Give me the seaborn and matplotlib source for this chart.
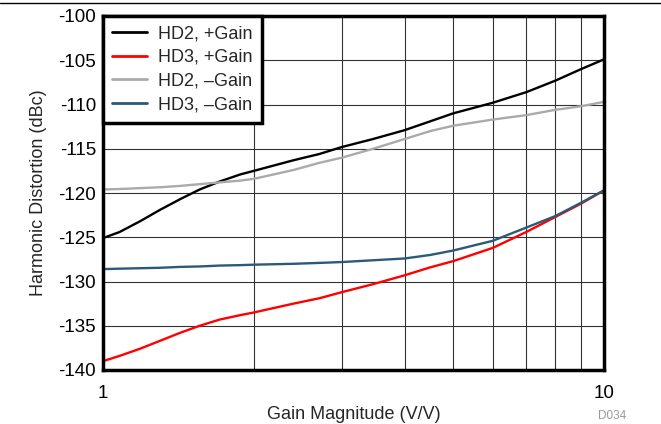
import numpy as np
import pandas as pd
import matplotlib
matplotlib.use("Agg")
import matplotlib.pyplot as plt
import seaborn as sns
from matplotlib.lines import Line2D

gain = [1, 1.08, 1.185, 1.3, 1.425, 1.56, 1.71, 1.88, 2, 2.4, 2.7, 3, 3.46, 4, 4.5, 5, 6, 7, 8, 9, 10]
hd2_pos = [-125.1, -124.4, -123.2, -121.9, -120.7, -119.6, -118.7, -117.9, -117.5, -116.3, -115.6, -114.8,
           -113.9, -112.9, -111.9, -111.0, -109.8, -108.6, -107.3, -106.0, -104.9]
hd3_pos = [-139.0, -138.4, -137.6, -136.7, -135.8, -135.0, -134.3, -133.8, -133.5, -132.5, -131.9, -131.2,
           -130.3, -129.3, -128.4, -127.7, -126.2, -124.4, -122.7, -121.2, -119.7]
hd2_neg = [-119.6, -119.55, -119.45, -119.35, -119.2, -119.0, -118.8, -118.6, -118.4, -117.4, -116.6, -116.0,
           -115.0, -113.9, -113.0, -112.4, -111.7, -111.2, -110.6, -110.2, -109.7]
hd3_neg = [-128.6, -128.55, -128.5, -128.45, -128.35, -128.3, -128.2, -128.15, -128.1, -128.0, -127.9, -127.8,
           -127.6, -127.4, -127.0, -126.5, -125.4, -123.9, -122.6, -121.1, -119.7]

series_names = ["HD2, +Gain", "HD3, +Gain", "HD2, \u2013Gain", "HD3, \u2013Gain"]
series_colors = ["#000000", "#ff0000", "#aaaaaa", "#2b5a78"]
y_ticks = [-140, -135, -130, -125, -120, -115, -110, -105, -100]
x_ticks = [1, 10]

df = pd.concat([
    pd.DataFrame({"gain": gain, "dist": vals, "series": name})
    for name, vals in zip(series_names, [hd2_pos, hd3_pos, hd2_neg, hd3_neg])
])

sns.set_theme(style="white")
plt.rcParams["font.family"] = ["Liberation Sans", "DejaVu Sans"]
plt.rcParams["axes.unicode_minus"] = False

fig = plt.figure(figsize=(6.61, 4.24), dpi=100)
ax = fig.add_axes([103/661, 1 - 370/424, (604-103)/661, (370-16)/424])

palette = dict(zip(series_names, series_colors))
sns.lineplot(data=df, x="gain", y="dist", hue="series", palette=palette,
             hue_order=series_names, linewidth=1.7, ax=ax, legend=False, zorder=3)

ax.set_xscale("log")
ax.set_xlim(1, 10)
ax.set_ylim(-140, -100)
ax.set_yticks(y_ticks)
ax.set_yticklabels([str(v) for v in y_ticks])
ax.set_xticks(x_ticks)
ax.set_xticklabels(["1", "10"])
ax.set_xticks(list(range(2, 10)), minor=True)
ax.xaxis.set_minor_formatter(matplotlib.ticker.NullFormatter())
ax.grid(True, which="both", color="#333333", linewidth=0.8, zorder=1)
ax.tick_params(axis="both", which="both", length=0, labelsize=13.5, colors="black")
ax.tick_params(axis="x", pad=11)
ax.tick_params(axis="y", pad=5)
for s in ax.spines.values():
    s.set_linewidth(2.5)
    s.set_color("black")
    s.set_zorder(5)

ax.set_xlabel("Gain Magnitude (V/V)", fontsize=13, labelpad=3)
ax.set_ylabel("Harmonic Distortion (dBc)", fontsize=13, labelpad=8)

handles = [Line2D([0], [0], color=c, lw=2) for c in series_colors]
leg = ax.legend(handles, series_names, loc="upper left", fontsize=13,
                frameon=True, fancybox=False, borderaxespad=0, handlelength=1.95,
                handletextpad=0.6, labelspacing=0.38, borderpad=0.5)
leg.get_frame().set_edgecolor("black")
leg.get_frame().set_linewidth(2.5)
leg.get_frame().set_alpha(1)
leg.set_zorder(6)

fig.add_artist(Line2D([0, 1], [1 - 3/424, 1 - 3/424], color="black", lw=1))
fig.text(612/661, 1 - 416/424, "D034", fontsize=8.5, color="#999999", ha="center", va="center")

fig.savefig("out.png", dpi=100)
